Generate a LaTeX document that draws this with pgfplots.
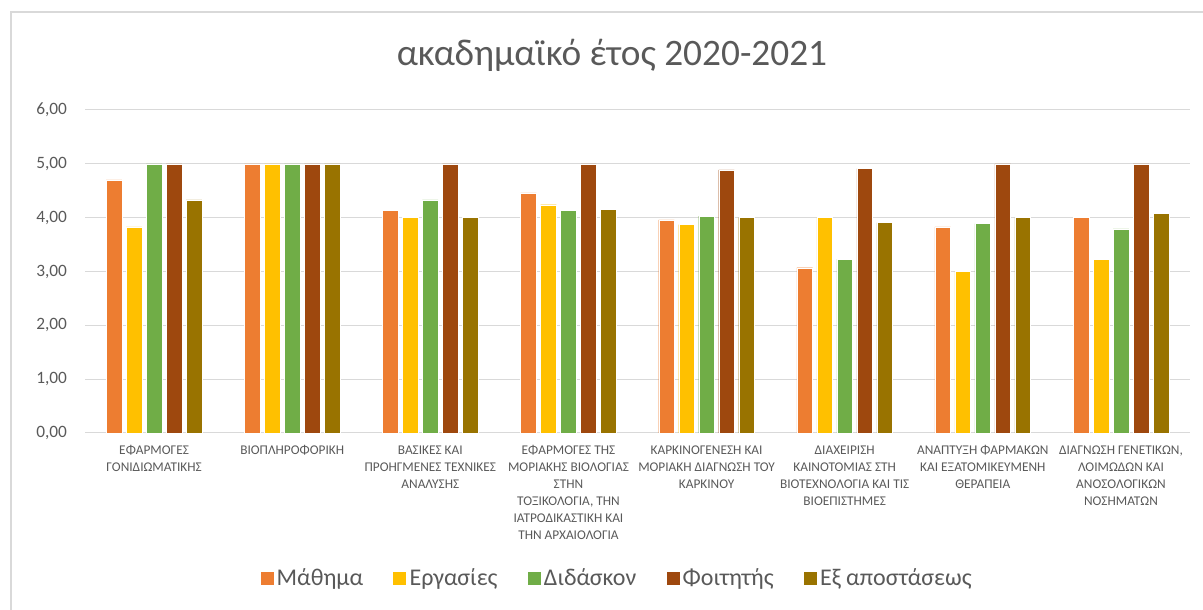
\documentclass[border=0pt]{standalone}
\usepackage{pgfplots}
\pgfplotsset{compat=1.18}
\usepackage{fontspec}
\setmainfont{Carlito}
\definecolor{cM}{HTML}{ED7D31}
\definecolor{cE}{HTML}{FFC000}
\definecolor{cD}{HTML}{70AD47}
\definecolor{cF}{HTML}{9E480E}
\definecolor{cX}{HTML}{997300}
\definecolor{txt}{HTML}{595959}
\definecolor{grd}{HTML}{D9D9D9}
\begin{document}
\begin{tikzpicture}
\useasboundingbox (0,0) rectangle (902.25pt,457.5pt);
\draw[grd,line width=1.5pt] (8.25pt,0pt) -- (8.25pt,448.5pt) -- (902.25pt,448.5pt);
\node[text=txt,font=\fontsize{28}{32}\selectfont] at (459pt,416.25pt) {ακαδημαϊκό έτος 2020-2021};
\begin{axis}[
  at={(63.75pt,132.75pt)}, anchor=south west,
  scale only axis, width=828.75pt, height=242.25pt,
  xmin=-0.5, xmax=7.5, ymin=0, ymax=6,
  ybar=3.2pt, bar width=11.8pt,
  ytick={0,1,...,6},
  yticklabel style={/pgf/number format/fixed,/pgf/number format/fixed zerofill,/pgf/number format/precision=2,/pgf/number format/use comma,/pgf/number format/assume math mode=true,text=txt,font=\fontsize{13}{15}\selectfont,xshift=-10pt},
  xtick=data,
  xticklabels={{ΕΦΑΡΜΟΓΕΣ\\ΓΟΝΙΔΙΩΜΑΤΙΚΗΣ},{ΒΙΟΠΛΗΡΟΦΟΡΙΚΗ},{ΒΑΣΙΚΕΣ ΚΑΙ\\ΠΡΟΗΓΜΕΝΕΣ ΤΕΧΝΙΚΕΣ\\ΑΝΑΛΥΣΗΣ},{ΕΦΑΡΜΟΓΕΣ ΤΗΣ\\ΜΟΡΙΑΚΗΣ ΒΙΟΛΟΓΙΑΣ\\ΣΤΗΝ\\ΤΟΞΙΚΟΛΟΓΙΑ, ΤΗΝ\\ΙΑΤΡΟΔΙΚΑΣΤΙΚΗ ΚΑΙ\\ΤΗΝ ΑΡΧΑΙΟΛΟΓΙΑ},{ΚΑΡΚΙΝΟΓΕΝΕΣΗ ΚΑΙ\\ΜΟΡΙΑΚΗ ΔΙΑΓΝΩΣΗ ΤΟΥ\\ΚΑΡΚΙΝΟΥ},{ΔΙΑΧΕΙΡΙΣΗ\\ΚΑΙΝΟΤΟΜΙΑΣ ΣΤΗ\\ΒΙΟΤΕΧΝΟΛΟΓΙΑ ΚΑΙ ΤΙΣ\\ΒΙΟΕΠΙΣΤΗΜΕΣ},{ΑΝΑΠΤΥΞΗ ΦΑΡΜΑΚΩΝ\\ΚΑΙ ΕΞΑΤΟΜΙΚΕΥΜΕΝΗ\\ΘΕΡΑΠΕΙΑ},{ΔΙΑΓΝΩΣΗ ΓΕΝΕΤΙΚΩΝ,\\ΛΟΙΜΩΔΩΝ ΚΑΙ\\ΑΝΟΣΟΛΟΓΙΚΩΝ\\ΝΟΣΗΜΑΤΩΝ}},
  xticklabel style={align=center,anchor=north,text=txt,font=\fontsize{10}{12.75}\selectfont,yshift=-6pt},
  major tick length=0pt,
  axis x line*=bottom, axis y line*=left,
  y axis line style={draw=none},
  x axis line style={grd,line width=0.75pt,-},
  ymajorgrids, grid style={grd,line width=0.75pt},
  legend columns=5,
  legend style={draw=none,at={(0.4814,-0.449)},anchor=center,font=\fontsize{18}{20}\selectfont,text=txt,
    /tikz/every even column/.append style={column sep=20pt}},
  legend image code/.code={\fill[#1] (0pt,-5.25pt) rectangle (10.5pt,5.25pt);},
  every axis plot/.append style={draw=white,line width=0.3pt},
]
\addplot[fill=cM] coordinates {(0,4.70) (1,5.00) (2,4.13) (3,4.46) (4,3.96) (5,3.07) (6,3.83) (7,4.00)};
\addplot[fill=cE] coordinates {(0,3.83) (1,5.00) (2,4.00) (3,4.24) (4,3.87) (5,4.00) (6,3.00) (7,3.22)};
\addplot[fill=cD] coordinates {(0,5.00) (1,5.00) (2,4.33) (3,4.13) (4,4.03) (5,3.23) (6,3.89) (7,3.79)};
\addplot[fill=cF] coordinates {(0,5.00) (1,5.00) (2,5.00) (3,5.00) (4,4.89) (5,4.91) (6,5.00) (7,5.00)};
\addplot[fill=cX] coordinates {(0,4.33) (1,5.00) (2,4.00) (3,4.16) (4,4.00) (5,3.91) (6,4.00) (7,4.08)};
\legend{Μάθημα,Εργασίες,Διδάσκον,Φοιτητής,Εξ αποστάσεως}
\end{axis}
\end{tikzpicture}
\end{document}
